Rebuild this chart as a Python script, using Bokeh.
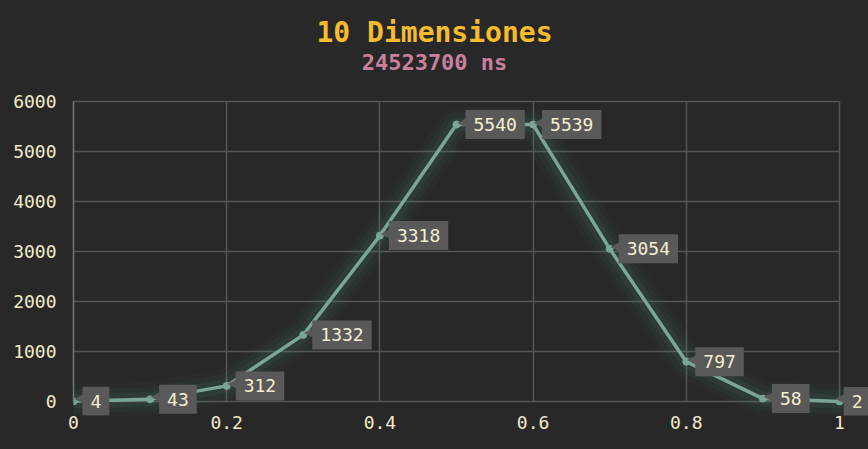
from bokeh.plotting import figure
from bokeh.models import ColumnDataSource, FixedTicker, Label, Grid
from bokeh.embed import file_html
from bokeh.resources import INLINE

# data
x_vals = [0.0, 0.1, 0.2, 0.3, 0.4, 0.5, 0.6, 0.7, 0.8, 0.9, 1.0]
y_vals = [4, 43, 312, 1332, 3318, 5540, 5539, 3054, 797, 58, 2]
x_ticks = [0, 0.2, 0.4, 0.6, 0.8, 1]
x_tick_labels = ["0", "0.2", "0.4", "0.6", "0.8", "1"]
y_ticks = [0, 1000, 2000, 3000, 4000, 5000, 6000]
title_text = "10 Dimensiones"
subtitle_text = "24523700 ns"

BG = "#282828"
FONT = "DejaVu Sans Mono"
CREAM = "#f2ebc8"
LINE = "#7ba597"
W, H = 868, 449
LEFT, BOTTOM = 73, 34
# plotting box (pixels) where x 0..1 and y 0..6000 are drawn
BOX_L, BOX_R, BOX_T, BOX_B = 73, 839, 101, 401
X0, X1 = x_ticks[0], x_ticks[-1]
Y0, Y1 = y_ticks[0], y_ticks[-1]
xpp = (X1 - X0) / (BOX_R - BOX_L)
ypp = (Y1 - Y0) / (BOX_B - BOX_T)
frame_b = H - BOTTOM
x_range = (X0, X1 + (W - BOX_R) * xpp)
y_range = (Y0 - (frame_b - BOX_B) * ypp, Y1 + BOX_T * ypp)

src = ColumnDataSource(dict(x=x_vals, y=y_vals))

p = figure(width=W, height=H, x_range=x_range, y_range=y_range,
           output_backend="svg", toolbar_location=None, title=None,
           background_fill_color=BG, border_fill_color=BG,
           min_border_left=LEFT, min_border_right=0, min_border_bottom=BOTTOM,
           min_border_top=0)
p.outline_line_color = None

for ax in (p.xaxis, p.yaxis):
    ax.major_tick_line_color = None
    ax.minor_tick_line_color = None
    ax.major_tick_out = 0
    ax.major_tick_in = 0
    ax.minor_tick_out = 0
    ax.minor_tick_in = 0
    ax.major_label_text_font = FONT
    ax.major_label_text_font_size = "18px"
    ax.major_label_text_color = CREAM
p.xaxis.axis_line_color = None
p.xaxis.bounds = (X0, X1)
p.yaxis.bounds = (Y0, Y1)
p.yaxis.axis_line_color = "#777777"
p.yaxis.axis_line_width = 1.5
p.xaxis.ticker = FixedTicker(ticks=x_ticks)
p.xaxis.major_label_overrides = {t: l for t, l in zip(x_ticks, x_tick_labels)}
p.yaxis.ticker = FixedTicker(ticks=y_ticks)
p.xaxis.major_label_standoff = 0
p.yaxis.major_label_standoff = 17

p.grid.grid_line_color = "#555555"
p.grid.grid_line_width = 1.5
if "cross_bounds" in Grid.properties():
    p.xgrid.cross_bounds = (Y0, Y1)
    p.ygrid.cross_bounds = (X0, X1)

# glow
for w, a in [(34, 0.05), (24, 0.08), (14, 0.11)]:
    p.line("x", "y", source=src, line_width=w, line_color="#4a8a7a", line_alpha=a,
           line_join="round", line_cap="round")
p.line("x", "y", source=src, line_width=3.5, line_color=LINE, line_join="round")
p.scatter("x", "y", source=src, size=7, color=LINE)

# value labels (speech-bubble style)
char_w = 10.8
pad = 8
for xv, yv in zip(x_vals, y_vals):
    txt = str(yv)
    sx = BOX_L + (xv - X0) / xpp
    off = 9
    box_right = sx + off + 2 * pad + len(txt) * char_w
    if box_right > W + 2:
        off -= box_right - (W + 2)
    p.add_layout(Label(x=xv, y=yv, text="\u25c0", x_offset=off + 1, y_offset=3,
                       text_align="right", text_baseline="middle",
                       text_font="DejaVu Sans", text_font_size="12px",
                       text_color="#595959"))
    p.add_layout(Label(x=xv, y=yv, text=txt, x_offset=off, y_offset=0,
                       text_align="left", text_baseline="middle", text_font=FONT,
                       text_font_size="18px", text_color="#f5efd2",
                       background_fill_color="#595959", padding=pad))

# titles (screen units are measured from the frame's bottom-left corner)
cx = W / 2 - LEFT
p.add_layout(Label(x=cx, y=frame_b - 32, x_units="screen", y_units="screen",
                   text=title_text, text_align="center", text_baseline="middle",
                   text_font=FONT, text_font_style="bold", text_font_size="28px",
                   text_color="#f6bc2c"))
p.add_layout(Label(x=cx, y=frame_b - 62, x_units="screen", y_units="screen",
                   text=subtitle_text, text_align="center", text_baseline="middle",
                   text_font=FONT, text_font_style="bold", text_font_size="22px",
                   text_color="#c8809c"))

html = file_html(p, INLINE)
html = html.replace("<head>", "<head><style>html,body{background:#282828;}</style>", 1)
open("out.html", "w").write(html)
